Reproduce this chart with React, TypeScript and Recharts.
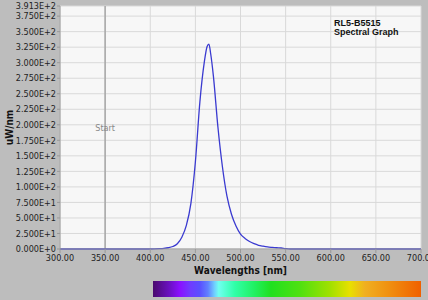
import { LineChart, Line, XAxis, YAxis, CartesianGrid, ReferenceLine } from "recharts"

// spectrum (nm, uW/nm)
const wavelengths = [
  300, 350, 400, 410, 415, 420, 425, 430, 435, 440, 445, 450, 455, 460, 463, 465, 467, 470, 475, 480,
  485, 490, 495, 500, 505, 510, 515, 520, 525, 530, 535, 540, 545, 550, 555, 600, 650, 700,
]
const irradiance = [
  0, 0, 0, 0.5, 1, 2, 4, 8.5, 19, 38, 73, 140, 237, 302, 326, 330, 314, 278, 196, 132,
  85, 56, 37, 24, 17, 12, 8.5, 6, 4.5, 3.3, 2.6, 2, 1.6, 0.6, 0, 0, 0, 0,
]

const xTicks = [300, 350, 400, 450, 500, 550, 600, 650, 700]
const yTicks = [0, 25, 50, 75, 100, 125, 150, 175, 200, 225, 250, 275, 300, 325, 350, 375, 391.3]

const spectrumStops = [
  ["#4a0a6e", 0],
  ["#6a10c0", 6],
  ["#8a10ff", 10],
  ["#6f3cff", 14],
  ["#5a50ff", 17.5],
  ["#6080ff", 20.5],
  ["#70d0ff", 23],
  ["#70fff0", 24.5],
  ["#30ffa8", 30.5],
  ["#20f060", 38],
  ["#20e020", 44],
  ["#50e010", 55],
  ["#a0e000", 66],
  ["#e8e000", 73.5],
  ["#f0b020", 79],
  ["#f09010", 88],
  ["#f06000", 100],
]

const font = "'DejaVu Sans Condensed', 'DejaVu Sans', sans-serif"

export default function App() {
  const data = wavelengths.map((wl, i) => ({ wl, value: irradiance[i] }))
  const gradient = spectrumStops.map(([c, p]) => `${c} ${p}%`).join(", ")

  return (
    <div style={{ position: "absolute", left: 0, top: 0, width: 428, height: 300, background: "#bdbdbd", fontFamily: font }}>
      <LineChart width={428} height={300} data={data} margin={{ top: 6, right: 7, bottom: 0, left: 0 }}>
        <CartesianGrid stroke="#d9d9d9" fill="#f7f7f7" />
        <XAxis
          type="number"
          dataKey="wl"
          domain={[300, 700]}
          ticks={xTicks}
          interval={0}
          height={51}
          tickSize={4}
          tickMargin={2}
          tickFormatter={(v: number) => v.toFixed(2)}
          tick={{ fontSize: 9, fill: "#222", fontFamily: font }}
          stroke="#999"
          label={{
            value: "Wavelengths [nm]",
            position: "insideBottom",
            offset: 26,
            style: { fontSize: 10, fontWeight: "bold", fill: "#111", fontFamily: font },
          }}
        />
        <YAxis
          domain={[0, 391.3]}
          ticks={yTicks}
          interval={0}
          width={60}
          tickSize={3}
          tickMargin={1}
          tickFormatter={(v: number) => v.toExponential(3).toUpperCase()}
          tick={{ fontSize: 9, fill: "#222", fontFamily: font }}
          stroke="#999"
          label={{
            value: "uW/nm",
            angle: -90,
            position: "insideLeft",
            offset: 9,
            style: { textAnchor: "middle", fontSize: 10, fontWeight: "bold", fill: "#111", fontFamily: font },
          }}
        />
        <ReferenceLine
          x={350}
          stroke="#a6a6a6"
          strokeWidth={1.5}
          label={{ value: "Start", position: "center", fill: "#888", fontSize: 9, fontFamily: font }}
        />
        <Line
          type="monotone"
          dataKey="value"
          stroke="#3a3ad0"
          strokeWidth={1.3}
          dot={false}
          isAnimationActive={false}
        />
      </LineChart>
      <div
        style={{
          position: "absolute",
          left: 334,
          top: 19,
          fontFamily: "'Liberation Sans', Arial, sans-serif",
          fontWeight: "bold",
          fontSize: 9,
          lineHeight: "9px",
          color: "#111",
        }}
      >
        RL5-B5515
        <br />
        Spectral Graph
      </div>
      <div
        style={{
          position: "absolute",
          left: 153,
          top: 281,
          width: 268,
          height: 16,
          background: `linear-gradient(to right, ${gradient})`,
        }}
      />
    </div>
  )
}
